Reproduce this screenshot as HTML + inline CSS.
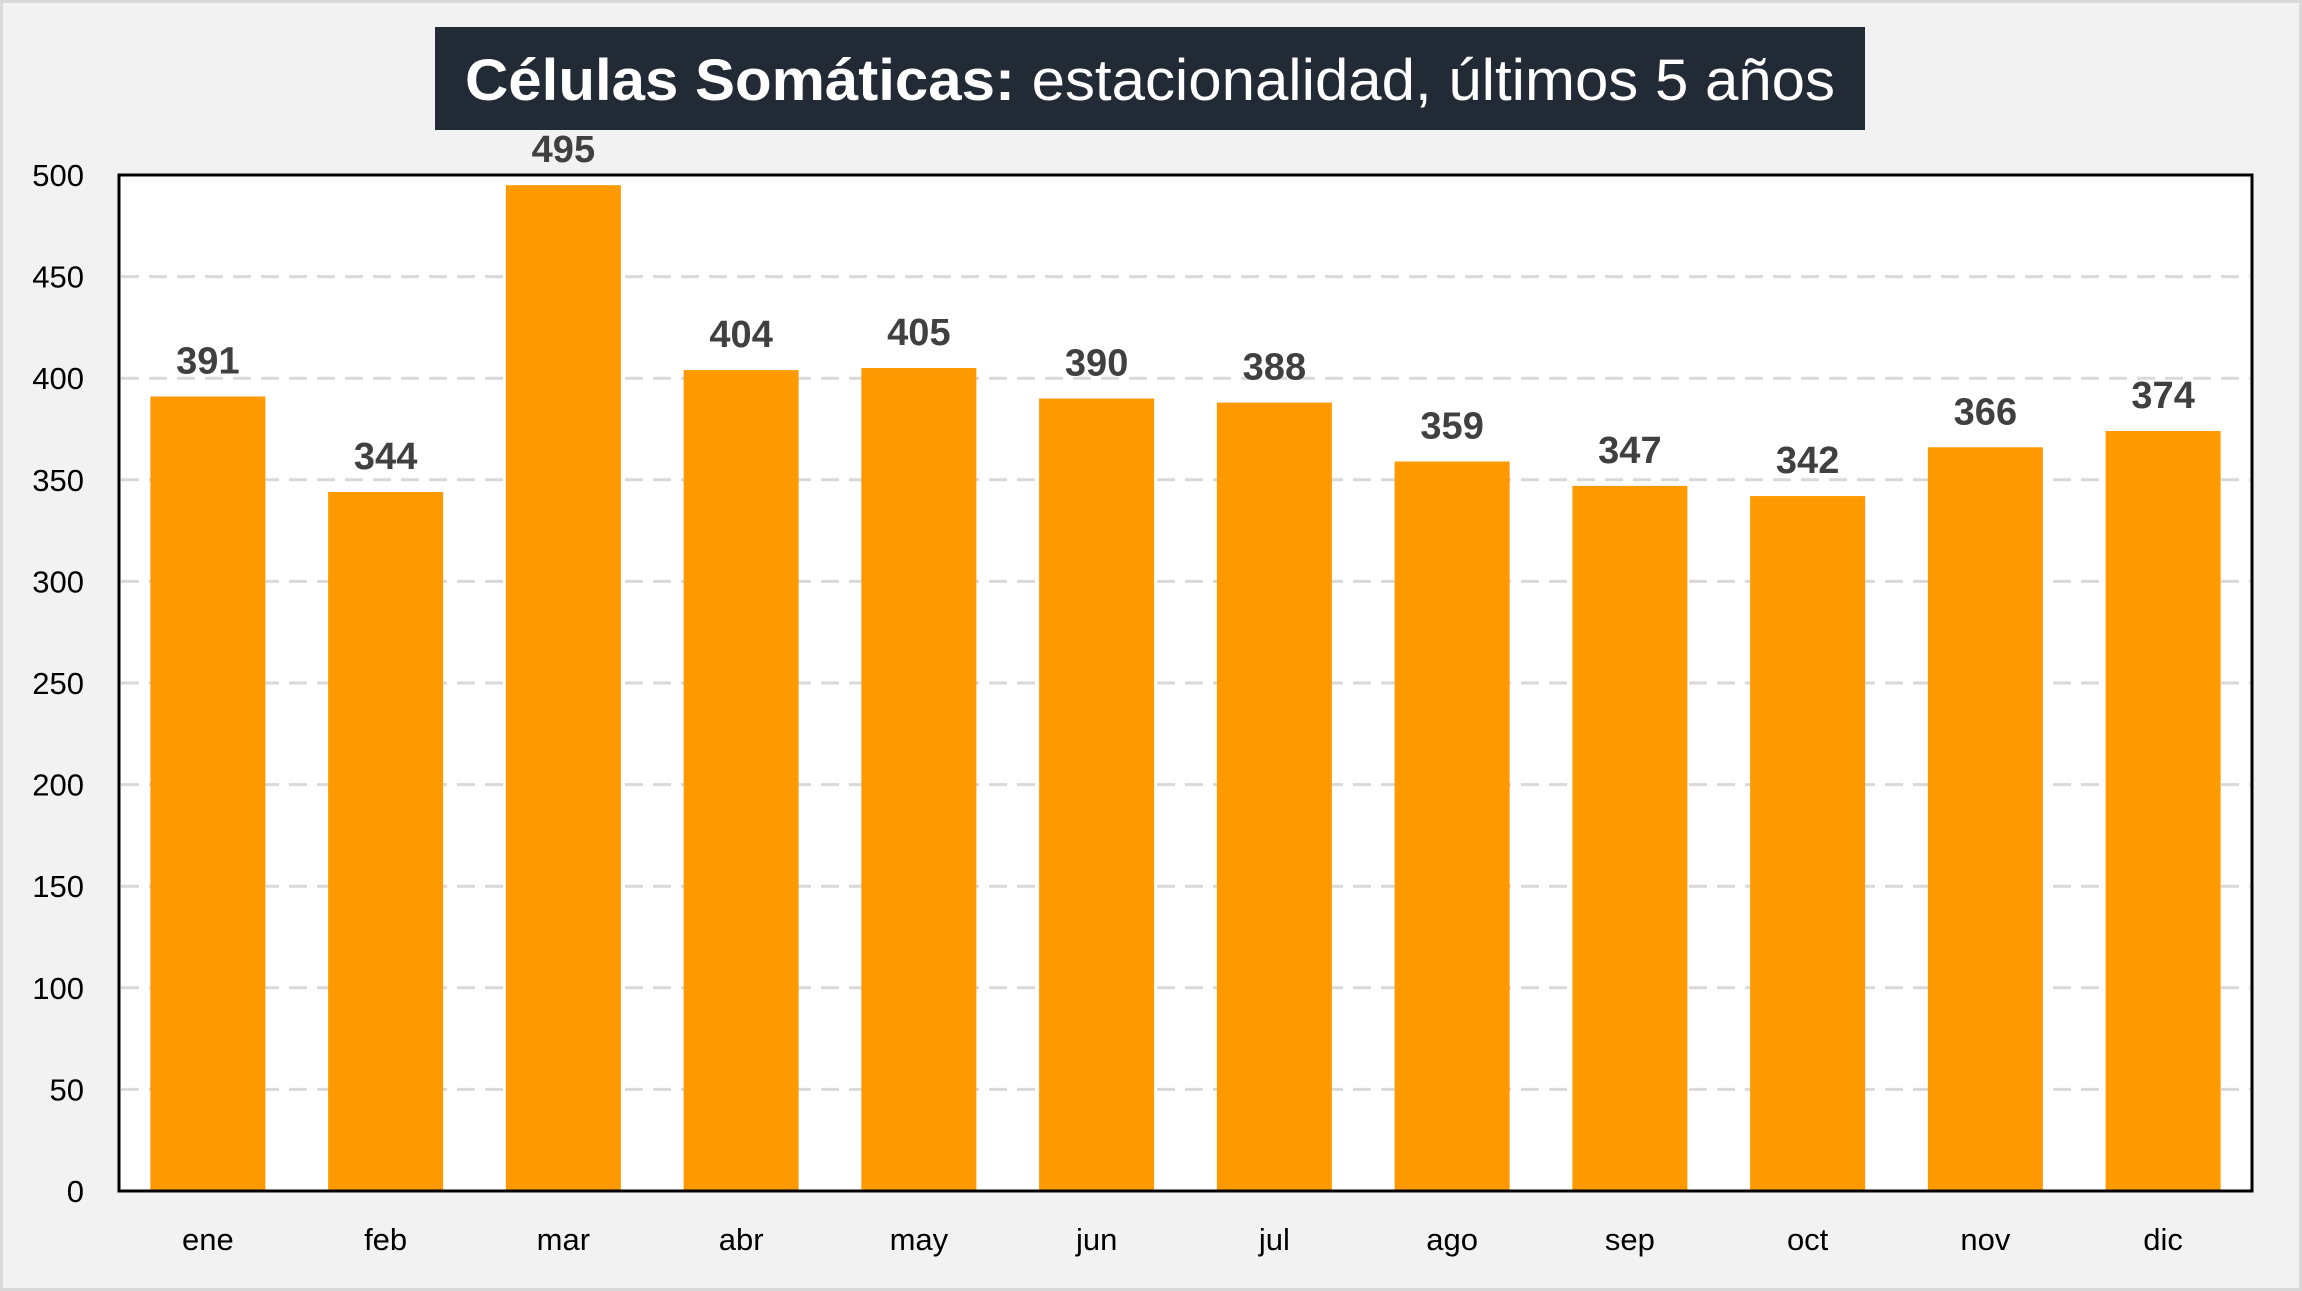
<!DOCTYPE html>
<html><head><meta charset="utf-8"><style>
body{margin:0;background:#f2f2f2;}
svg{display:block;font-family:"Liberation Sans",sans-serif;}
</style></head><body>
<svg width="2302" height="1291" viewBox="0 0 2302 1291">
<rect x="1.5" y="1.5" width="2299" height="1288" fill="#f2f2f2" stroke="#d9d9d9" stroke-width="3"/>
<rect x="435" y="27" width="1430" height="103" fill="#222a35"/>
<text x="1150" y="100" text-anchor="middle" fill="#fff" font-size="58" textLength="1370" lengthAdjust="spacingAndGlyphs"><tspan font-weight="bold">Células Somáticas:</tspan> estacionalidad, últimos 5 años</text>
<rect x="119" y="175" width="2133" height="1016" fill="#fff" stroke="#000" stroke-width="3"/>
<g id="grid"></g><g id="bars"></g><g id="labels"></g><g id="yticks"></g><g id="xticks"></g>
</svg>
<script>
const categories=["ene","feb","mar","abr","may","jun","jul","ago","sep","oct","nov","dic"];
const values=[391,344,495,404,405,390,388,359,347,342,366,374];
const yTicks=[0,50,100,150,200,250,300,350,400,450,500];
const L=119,R=2252,T=175,B=1191,yMax=500;
const NS="http://www.w3.org/2000/svg";
const y=v=>B-(v/yMax)*(B-T);
const bw=(R-L)/categories.length;
const x=i=>L+bw*(i+0.5);
function mk(tag,attrs,parent){const e=document.createElementNS(NS,tag);for(const k in attrs)e.setAttribute(k,attrs[k]);document.getElementById(parent).appendChild(e);return e;}
yTicks.forEach(t=>{
  if(t>0&&t<yMax){const g=mk("line",{x1:L+2,x2:R-2,y1:y(t),y2:y(t),stroke:"#d9d9d9","stroke-width":3,"stroke-dasharray":"18,10"},"grid");
  
  }
  const tx=mk("text",{x:84,y:y(t)+11,"text-anchor":"end","font-size":31,fill:"#000"},"yticks");
  tx.textContent=t;
  
  
});
values.forEach((v,i)=>{
  const w=115;
  const r=mk("rect",{x:x(i)-w/2,y:y(v),width:w,height:B-y(v)-1.5,fill:"#ff9900"},"bars");
  
  
  const lb=mk("text",{x:x(i),y:y(v)-23,"text-anchor":"middle","font-size":38,"font-weight":"bold",fill:"#404040"},"labels");
  lb.textContent=v;
  
  
  const c=mk("text",{x:x(i),y:1250,"text-anchor":"middle","font-size":31,fill:"#000"},"xticks");
  c.textContent=categories[i];
  
  
});
</script>
</body></html>
